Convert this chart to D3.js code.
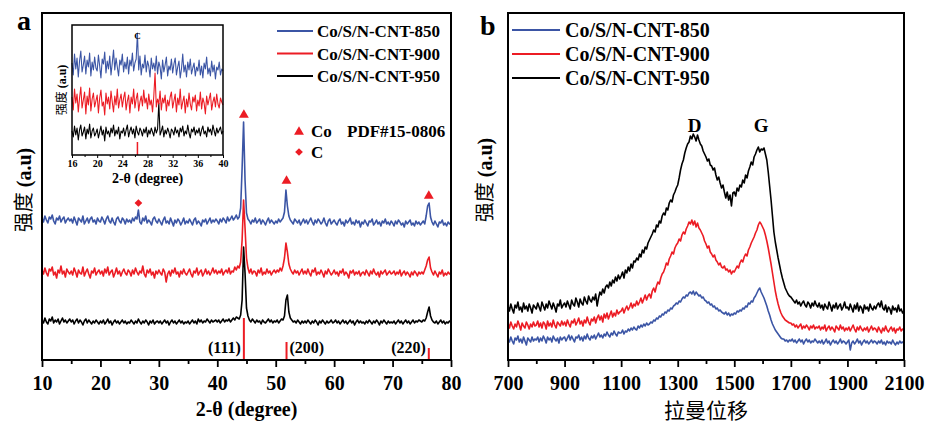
<!DOCTYPE html>
<html>
<head>
<meta charset="utf-8">
<style>
    body { margin: 0; background: #fff; }
    svg { display: block; background: #fff; }
    .serif { font-family: 'Liberation Serif', 'Times New Roman', serif; font-weight: bold; fill: #000; }
    .cjk { font-family: 'Noto Sans CJK SC', sans-serif; font-weight: normal; fill: #000; }
    .axis line { stroke: #000; }
    .axis text { font-family: 'Liberation Serif', 'Times New Roman', serif; font-weight: bold; fill: #000; }
</style>
</head>
<body>
<svg width="929" height="426"></svg>

<script src="https://d3js.org/d3.v7.min.js"></script>
<script>
    // ---- data ----
    const sampleNames = ["Co/S/N-CNT-850", "Co/S/N-CNT-900", "Co/S/N-CNT-950"];
    const sampleColors = ["#3b55a5", "#ec1c24", "#000000"];

    // XRD, 10..80 deg, step 0.25 (intensity a.u., already stacked)
    const xrdStart = 10, xrdStep = 0.25;
    const xrd850 = [
        140,136,142,138,135,141,139,143,137,134,140,138,142,136,139,141,135,138,140,137,
        139,135,141,137,133,140,138,136,142,134,137,140,135,139,141,136,138,134,140,137,
        136,141,138,134,139,142,137,135,140,136,133,139,141,137,135,140,138,134,139,136,
        138,135,140,137,141,139,148,136,134,140,137,142,135,138,136,133,139,141,137,135,
        139,136,133,138,141,135,137,134,140,136,132,138,135,139,137,133,136,140,134,137,
        135,139,136,133,138,140,134,137,135,132,138,136,139,134,137,140,135,138,136,139,
        137,134,139,136,140,138,135,141,137,139,142,138,140,143,139,141,150,190,236,178,
        145,139,137,134,138,136,140,135,137,139,134,138,136,133,137,140,135,138,136,134,
        137,135,139,136,138,140,146,168,152,142,138,136,134,139,137,135,138,133,136,139,
        135,138,134,137,140,136,133,138,135,139,137,134,136,140,135,132,137,139,134,136,
        138,135,133,137,139,134,136,132,138,135,137,140,134,136,133,138,135,137,131,136,
        134,138,135,132,137,136,139,133,135,138,134,136,132,137,135,139,134,136,133,137,
        135,132,137,134,138,136,133,135,131,137,134,136,138,133,135,132,137,134,136,133,
        135,137,134,142,152,155,141,136,133,137,134,131,136,135,138,133,135,132,136,134,
        135
    ];
    const xrd900 = [
        88,84,90,85,82,89,87,91,83,86,80,88,85,92,84,87,81,89,86,84,
        87,83,90,86,81,88,85,84,91,82,86,89,84,80,87,85,90,83,86,88,
        84,87,82,89,85,91,83,86,88,81,85,90,84,87,82,86,89,85,83,88,
        86,82,88,84,90,86,83,87,85,92,84,81,88,85,89,83,86,80,87,84,
        88,85,83,89,86,76,84,87,82,88,85,90,84,86,81,87,84,89,85,83,
        86,89,84,81,87,85,90,83,86,88,82,85,89,84,87,83,86,90,85,88,
        84,87,85,89,83,86,88,85,90,84,87,86,91,88,92,90,96,118,158,130,
        100,90,85,89,84,87,86,82,88,85,90,83,86,84,89,85,87,83,86,88,
        85,88,86,90,87,92,100,115,106,94,89,86,84,88,85,87,83,86,89,84,
        87,84,89,85,82,88,86,90,83,86,84,88,85,81,87,84,89,86,83,85,
        88,84,86,82,87,85,89,83,86,84,80,87,85,88,83,86,84,87,82,85,
        86,83,88,85,82,87,84,89,85,83,86,81,87,84,86,88,83,85,87,84,
        85,87,83,86,84,88,82,85,87,83,86,84,81,86,83,87,85,82,86,84,
        86,84,88,92,98,101,90,86,83,87,84,81,86,84,88,82,85,83,86,84,
        85
    ];
    const xrd950 = [
        38,35,40,36,34,39,37,41,35,38,36,39,34,37,40,36,38,35,37,39,
        36,38,34,37,39,35,38,36,33,37,39,35,38,36,34,37,35,38,36,34,
        37,35,38,34,36,39,35,37,33,36,38,35,37,34,36,38,35,37,34,36,
        35,38,36,34,37,35,39,36,34,37,35,38,36,33,37,35,38,34,36,37,
        35,37,34,36,38,35,37,33,36,38,35,37,34,36,38,35,37,34,36,35,
        37,34,36,38,35,37,34,39,36,38,35,37,36,39,37,35,38,36,37,38,
        36,38,35,37,39,36,38,37,39,36,38,40,38,41,40,39,43,58,111,85,
        50,42,38,36,39,37,35,38,36,37,34,38,36,35,37,39,36,38,35,37,
        36,38,35,37,39,38,42,58,63,46,40,38,36,37,35,38,36,34,37,35,
        37,35,38,36,34,37,35,38,36,33,37,35,38,36,34,37,35,36,38,35,
        36,38,35,37,34,36,38,35,37,34,36,38,35,37,33,36,38,35,37,35,
        36,34,37,35,38,36,34,37,35,38,36,33,37,35,38,36,34,37,35,36,
        35,37,34,36,38,35,37,34,36,38,35,37,34,36,38,35,37,36,38,37,
        36,38,37,40,46,51,42,38,36,35,37,34,36,38,35,37,34,36,35,37,
        36
    ];

    // Co reference pattern PDF#15-0806 (stick heights in a.u.)
    const coAngles = [44.55, 51.85, 76.2];
    const coIntensity = [40, 16, 10];
    const coHkl = ["(111)", "(200)", "(220)"];
    const coMarkLevel = [243, 177, 162];
    const cMarkAngle = 26.5, cMarkLevel = 155;

    // inset, 16..40 deg, step 0.2
    const insetStart = 16, insetStep = 0.2;
    const inset850 = [
        92,80,101,86,97,78,94,104,83,90,99,81,95,88,102,79,93,85,98,87,
        84,100,89,77,96,91,103,82,94,86,99,80,92,105,85,97,88,79,95,90,
        101,83,93,86,98,81,95,89,102,84,92,96,122,85,99,80,91,87,100,83,
        94,89,78,97,86,92,84,99,81,93,88,76,95,83,90,98,79,89,85,96,
        82,91,97,80,88,94,77,86,101,83,90,78,93,85,96,81,87,92,79,88,
        84,95,80,89,77,92,86,98,81,87,79,94,83,90,76,88,85,93,80,86,
        84
    ];
    const inset900 = [
        58,45,66,52,61,43,57,68,47,55,63,41,59,50,67,44,56,62,48,54,
        60,42,57,65,49,53,40,62,51,58,46,64,53,43,59,50,66,47,55,61,
        48,57,63,45,54,60,42,58,51,66,47,56,62,44,53,59,49,65,52,57,
        46,61,50,55,43,59,82,48,56,51,64,45,57,52,60,44,55,49,58,63,
        47,54,61,43,57,50,66,46,53,59,42,56,48,62,51,45,58,53,60,44,
        55,49,63,46,57,52,41,59,50,56,62,45,53,58,48,61,51,47,57,53,
        50
    ];
    const inset950 = [
        24,18,29,20,27,15,25,30,19,23,28,16,26,21,31,17,24,27,19,22,
        26,17,23,29,20,25,14,28,21,24,18,27,22,30,19,25,21,28,16,24,
        22,27,19,25,30,18,24,28,21,26,17,29,23,20,27,24,19,26,22,28,
        18,25,21,27,23,19,28,22,26,52,20,24,29,18,25,21,27,23,17,26,
        24,20,28,22,25,18,27,23,29,19,24,21,30,22,17,26,23,28,20,25,
        22,27,19,25,29,21,24,18,28,23,26,20,30,24,19,27,22,25,28,21,
        24
    ];
    const insetCAngle = 26.4, insetCStick = 13, insetCLevel = 116;

    // Raman, 700..2100 cm-1, step 5
    const ramanStart = 700, ramanStep = 5;
    const raman850 = [
        19,16,21,17,14,20,18,22,16,19,15,21,17,13,20,18,16,21,17,19,
        18,21,16,20,17,22,19,15,21,18,20,16,22,19,17,20,15,21,18,20,
        21,17,20,23,18,22,19,16,21,20,23,18,21,17,22,19,24,20,18,22,
        20,23,19,22,25,21,23,20,24,22,26,23,21,25,23,27,24,22,26,25,
        25,28,24,27,26,29,27,30,28,31,29,28,32,30,33,31,34,32,35,33,
        34,36,35,38,37,40,39,42,41,44,43,46,45,48,47,50,49,52,53,55,
        54,57,56,59,61,60,63,62,65,66,64,67,63,66,64,62,63,60,61,58,
        57,55,56,53,54,51,52,49,50,47,48,46,45,44,46,43,45,42,44,43,
        45,44,47,46,48,47,50,49,52,51,55,54,57,56,60,62,65,68,70,66,
        63,60,56,52,47,43,38,34,31,28,26,24,22,20,19,19,17,18,16,18,
        17,19,16,18,15,17,19,16,18,14,17,19,16,18,15,17,16,19,17,15,
        17,15,18,14,16,19,15,17,13,16,18,15,17,14,16,19,15,17,16,14,
        16,18,8,15,17,14,16,19,15,17,13,16,18,15,17,14,16,18,15,17,
        16,14,17,15,18,14,16,13,17,15,16,14,18,15,13,16,14,17,15,16,
        15
    ];
    const raman900 = [
        35,30,36,32,29,34,31,37,33,28,35,32,30,36,33,29,34,31,36,32,
        33,37,31,35,30,36,34,29,37,32,35,31,38,33,30,36,34,32,37,33,
        36,32,38,34,31,37,35,39,33,36,40,34,37,32,38,35,41,36,33,39,
        37,41,35,40,43,38,42,36,44,40,45,39,43,47,41,45,42,48,44,46,
        47,50,45,49,52,48,51,55,50,54,52,57,53,56,60,55,59,63,58,62,
        64,60,67,70,66,72,76,74,80,84,86,90,95,93,99,102,106,104,110,113,
        115,119,117,123,126,124,129,132,136,134,138,133,137,131,135,130,128,125,122,117,
        114,110,112,106,104,101,103,98,96,93,95,91,90,92,88,89,86,88,84,87,
        86,89,92,90,95,98,96,101,104,102,108,111,115,118,121,125,128,133,136,134,
        131,128,123,117,110,102,94,85,76,67,60,54,49,45,42,40,38,37,36,35,
        35,33,34,31,33,30,32,34,29,32,30,33,31,28,32,30,33,29,31,30,
        32,28,31,29,33,27,30,32,28,31,29,26,32,30,28,33,29,31,27,30,
        28,31,27,30,33,29,26,31,28,32,29,27,30,28,31,26,29,32,28,30,
        29,26,31,28,25,30,27,32,28,26,29,31,27,30,25,29,28,31,27,29,
        28
    ];
    const raman950 = [
        52,47,54,49,45,53,50,56,48,51,46,55,49,52,47,54,50,45,53,51,
        49,55,51,47,56,52,48,54,50,57,53,49,55,51,46,54,52,58,50,53,
        55,51,57,53,49,58,54,52,60,56,51,59,55,53,61,57,54,62,58,56,
        61,58,64,52,60,66,63,69,65,71,73,70,76,72,78,75,81,77,83,79,
        82,86,80,88,85,91,87,94,90,97,96,100,98,104,101,108,105,111,109,115,
        118,121,124,128,126,133,131,137,135,142,145,143,150,148,155,158,156,163,166,170,
        173,180,188,194,198,205,210,214,216,222,219,224,221,217,223,218,214,212,207,204,
        201,197,199,193,192,188,190,183,178,181,175,170,173,166,160,166,158,163,152,165,
        166,162,170,167,173,171,178,175,183,180,187,191,196,193,201,204,208,211,206,209,
        208,210,204,198,186,172,158,142,126,116,108,100,93,86,80,75,70,67,64,62,
        61,59,57,55,58,54,56,52,55,57,53,51,56,54,50,55,52,57,53,51,
        55,50,53,48,54,51,49,56,52,47,53,50,55,49,52,54,48,51,56,50,
        51,48,54,50,46,53,49,55,47,52,50,45,53,49,51,47,54,50,48,52,
        49,53,55,51,57,50,48,53,46,51,49,44,52,48,50,46,53,47,49,45,
        47
    ];
    const bandShift = [1360, 1595];
    const bandName = ["D", "G"];
    const bandLevel = 226;

    const xrdTicks = [10, 20, 30, 40, 50, 60, 70, 80];
    const xrdMinor = [15, 25, 35, 45, 55, 65, 75];
    const insetTicks = [16, 20, 24, 28, 32, 36, 40];
    const insetMinor = [18, 22, 26, 30, 34, 38];
    const ramanTicks = [700, 900, 1100, 1300, 1500, 1700, 1900, 2100];
    const ramanMinor = [800, 1000, 1200, 1400, 1600, 1800, 2000];

    // ---- layout ----
    let svg = d3.select("svg");

    const A = {left: 42, right: 451, top: 13, bottom: 360};
    const B = {left: 508, right: 904, top: 13, bottom: 360};
    const I = {left: 72, right: 223, top: 25, bottom: 155};

    let xA = d3.scaleLinear().domain([10, 80]).range([A.left, A.right]);
    let yA = d3.scaleLinear().domain([-2, 345]).range([A.bottom, A.top]);
    let xI = d3.scaleLinear().domain([16, 40]).range([I.left, I.right]);
    let yI = d3.scaleLinear().domain([0, 130]).range([I.bottom, I.top]);
    let xB = d3.scaleLinear().domain([700, 2100]).range([B.left, B.right]);
    let yB = d3.scaleLinear().domain([-2, 345]).range([B.bottom, B.top]);

    function drawTrace(values, start, step, xs, ys, color, width) {
        let line = d3.line()
            .x((d, i) => xs(start + i * step))
            .y(d => ys(d));
        svg.append("path")
            .datum(values)
            .attr("d", line)
            .attr("fill", "none")
            .attr("stroke", color)
            .attr("stroke-width", width)
            .attr("stroke-linejoin", "round");
    }

    function drawAxis(box, xs, major, minor, majorLen, minorLen, fontSize, pad, lw) {
        let g = svg.append("g").attr("class", "axis")
            .attr("transform", `translate(0,${box.bottom})`);
        g.append("g")
            .call(d3.axisBottom(xs).tickValues(minor).tickSize(minorLen).tickFormat(""))
            .call(s => s.select(".domain").remove());
        g.append("g")
            .call(d3.axisBottom(xs).tickValues(major).tickSize(majorLen).tickPadding(pad).tickFormat(d3.format("d")))
            .call(s => s.select(".domain").remove())
            .call(s => s.selectAll("text").style("font-size", fontSize + "px"));
        g.selectAll("line").style("stroke-width", lw);
    }

    function frame(box, w) {
        svg.append("rect")
            .attr("x", box.left).attr("y", box.top)
            .attr("width", box.right - box.left).attr("height", box.bottom - box.top)
            .attr("fill", "none").attr("stroke", "#000").attr("stroke-width", w);
    }

    function yLabel(x, y, size) {
        let t = svg.append("text")
            .attr("transform", `translate(${x},${y}) rotate(-90)`)
            .attr("text-anchor", "middle");
        t.append("tspan").attr("class", "cjk").style("font-size", size + "px").text("强度");
        t.append("tspan").attr("class", "serif").style("font-size", size + "px").text(" (a.u)");
    }

    // ---- panel a ----
    const xrdSets = [xrd950, xrd900, xrd850];
    const drawColors = [sampleColors[2], sampleColors[1], sampleColors[0]];
    xrdSets.forEach((s, i) => drawTrace(s, xrdStart, xrdStep, xA, yA, drawColors[i], 1.6));

    // reference sticks
    svg.append("g").selectAll("line")
        .data(coAngles)
        .join("line")
        .attr("x1", d => xA(d)).attr("x2", d => xA(d))
        .attr("y1", A.bottom).attr("y2", (d, i) => yA(coIntensity[i]))
        .attr("stroke", "#ec1c24").attr("stroke-width", 2);

    svg.append("g").selectAll("text")
        .data(coHkl)
        .join("text")
        .attr("class", "serif")
        .style("font-size", "16px")
        .attr("x", (d, i) => i == 1 ? xA(coAngles[i]) + 3 : xA(coAngles[i]) - 3)
        .attr("y", 353)
        .attr("text-anchor", (d, i) => i == 1 ? "start" : "end")
        .text(d => d);

    // peak markers
    svg.append("g").selectAll("path")
        .data(coAngles)
        .join("path")
        .attr("d", d3.symbol(d3.symbolTriangle, 42))
        .attr("transform", (d, i) => `translate(${xA(d)},${yA(coMarkLevel[i])})`)
        .attr("fill", "#ec1c24");
    svg.append("path")
        .attr("d", d3.symbol(d3.symbolSquare, 30))
        .attr("transform", `translate(${xA(cMarkAngle)},${yA(cMarkLevel)}) rotate(45)`)
        .attr("fill", "#ec1c24");

    drawAxis(A, xA, xrdTicks, xrdMinor, 7, 4, 20, 9, 1.8);
    frame(A, 2);

    svg.append("text").attr("class", "serif").style("font-size", "20px")
        .attr("x", (A.left + A.right) / 2).attr("y", 416).attr("text-anchor", "middle")
        .text("2-θ (degree)");
    yLabel(31, 190, 20);
    svg.append("text").attr("class", "serif").style("font-size", "28px")
        .attr("x", 17).attr("y", 30).text("a");

    // legend a
    let legA = svg.append("g");
    sampleNames.forEach((n, i) => {
        legA.append("line").attr("x1", 277).attr("x2", 313)
            .attr("y1", 31 + i * 22.5).attr("y2", 31 + i * 22.5)
            .attr("stroke", sampleColors[i]).attr("stroke-width", 2);
        legA.append("text").attr("class", "serif").style("font-size", "17px")
            .attr("x", 317).attr("y", 37 + i * 22.5).text(n);
    });
    legA.append("path").attr("d", d3.symbol(d3.symbolTriangle, 42))
        .attr("transform", "translate(299,132)").attr("fill", "#ec1c24");
    legA.append("path").attr("d", d3.symbol(d3.symbolSquare, 30))
        .attr("transform", "translate(299,152) rotate(45)").attr("fill", "#ec1c24");
    legA.append("text").attr("class", "serif").style("font-size", "17px")
        .attr("x", 311).attr("y", 137).text("Co");
    legA.append("text").attr("class", "serif").style("font-size", "17px")
        .attr("x", 347).attr("y", 137).text("PDF#15-0806");
    legA.append("text").attr("class", "serif").style("font-size", "17px")
        .attr("x", 311).attr("y", 158).text("C");

    // ---- inset ----
    const insetSets = [inset950, inset900, inset850];
    insetSets.forEach((s, i) => drawTrace(s, insetStart, insetStep, xI, yI, drawColors[i], 1.1));
    svg.append("line")
        .attr("x1", xI(insetCAngle)).attr("x2", xI(insetCAngle))
        .attr("y1", I.bottom).attr("y2", yI(insetCStick))
        .attr("stroke", "#ec1c24").attr("stroke-width", 1.5);
    svg.append("text").attr("class", "serif").style("font-size", "9px")
        .attr("x", xI(insetCAngle)).attr("y", yI(insetCLevel)).attr("text-anchor", "middle").text("C");
    drawAxis(I, xI, insetTicks, insetMinor, 3, 2, 10, 2, 1);
    frame(I, 1.5);
    svg.append("text").attr("class", "serif").style("font-size", "14px")
        .attr("x", (I.left + I.right) / 2).attr("y", 183).attr("text-anchor", "middle")
        .text("2-θ (degree)");
    yLabel(66, 90, 12);

    // ---- panel b ----
    const ramanSets = [raman950, raman900, raman850];
    ramanSets.forEach((s, i) => drawTrace(s, ramanStart, ramanStep, xB, yB, drawColors[i], 1.6));

    svg.append("g").selectAll("text")
        .data(bandName)
        .join("text")
        .attr("class", "serif").style("font-size", "19px")
        .attr("x", (d, i) => xB(bandShift[i])).attr("y", yB(bandLevel))
        .attr("text-anchor", "middle")
        .text(d => d);

    drawAxis(B, xB, ramanTicks, ramanMinor, 7, 4, 20, 9, 1.8);
    frame(B, 2);

    svg.append("text").attr("class", "cjk").style("font-size", "21px")
        .attr("x", (B.left + B.right) / 2).attr("y", 418).attr("text-anchor", "middle")
        .text("拉曼位移");
    yLabel(492, 180, 20);
    svg.append("text").attr("class", "serif").style("font-size", "28px")
        .attr("x", 480).attr("y", 35).text("b");

    let legB = svg.append("g");
    sampleNames.forEach((n, i) => {
        legB.append("line").attr("x1", 512).attr("x2", 560)
            .attr("y1", 30 + i * 24).attr("y2", 30 + i * 24)
            .attr("stroke", sampleColors[i]).attr("stroke-width", 2);
        legB.append("text").attr("class", "serif").style("font-size", "20px")
            .attr("x", 565).attr("y", 37 + i * 24).text(n);
    });
</script>
</body>
</html>
